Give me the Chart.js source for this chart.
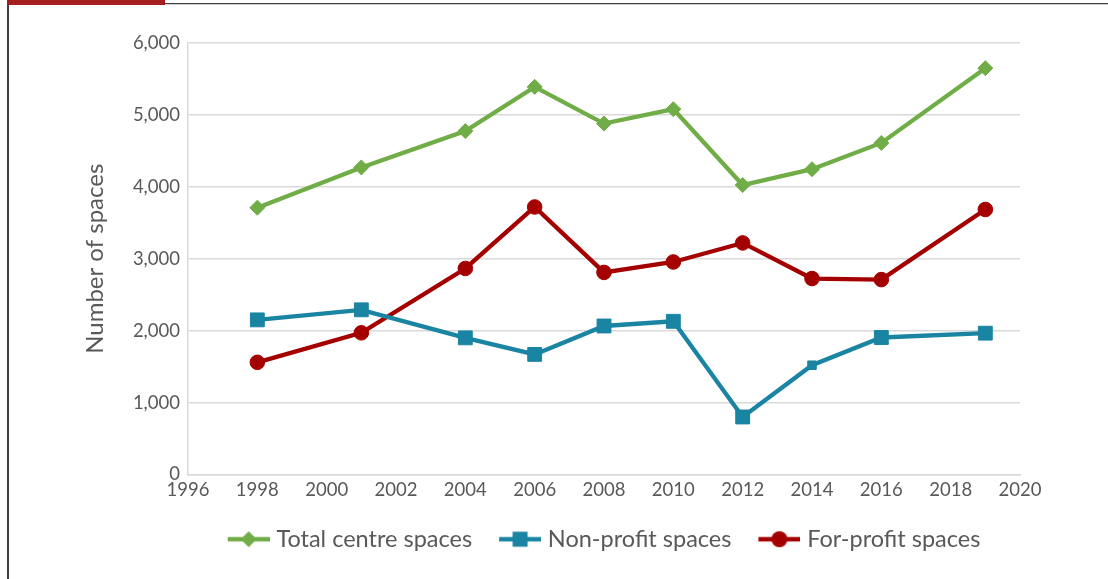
<!DOCTYPE html>
<html>
<head>
<meta charset="utf-8">
<script src="https://cdn.jsdelivr.net/npm/chart.js@4"></script>
<style>
  html, body { margin: 0; padding: 0; background: #fff; }
  #wrap { position: relative; width: 1108px; height: 579px; overflow: hidden; }
  #c { position: absolute; left: 0; top: 0; }
  .frameL { position: absolute; left: 7px; top: 0; width: 1.5px; height: 579px; background: #404040; }
  .frameT { position: absolute; left: 7px; top: 3px; width: 1101px; height: 1px; background: #404040; }
  .frameT2 { position: absolute; left: 7px; top: 4px; width: 1101px; height: 1px; background: #d0d0d0; }
  .redbar { position: absolute; left: 7px; top: 0; width: 158px; height: 5px; background: #a51e22; }
</style>
</head>
<body>
<div id="wrap">
  <canvas id="c" width="1108" height="579"></canvas>
  <div class="frameL"></div>
  <div class="frameT"></div>
  <div class="frameT2"></div>
  <div class="redbar"></div>
</div>
<script>
const years = [1998, 2001, 2004, 2006, 2008, 2010, 2012, 2014, 2016, 2019];
const totalSpaces = [3710, 4270, 4775, 5390, 4880, 5080, 4025, 4245, 4610, 5650];
const nonProfitSpaces = [2150, 2290, 1900, 1670, 2065, 2130, 800, 1520, 1905, 1965];
const forProfitSpaces = [1560, 1970, 2865, 3720, 2810, 2955, 3220, 2725, 2710, 3685];
const seriesNames = ["Total centre spaces", "Non-profit spaces", "For-profit spaces"];
const xTicks = [1996, 1998, 2000, 2002, 2004, 2006, 2008, 2010, 2012, 2014, 2016, 2018, 2020];
const yTicks = [0, 1000, 2000, 3000, 4000, 5000, 6000];

const GREEN = '#70ad47', BLUE = '#1a84a3', RED = '#a50000';
const FONT = 'Lato';
const TEXT = '#595959';

function pts(vals) { return years.map((y, i) => ({x: y, y: vals[i]})); }

// legend icon: a 42px line with the marker in its middle; canvas is 47 wide, line drawn from x=5
function makeIcon(color, shape) {
  const cv = document.createElement('canvas');
  cv.width = 47; cv.height = 18;
  const g = cv.getContext('2d');
  g.strokeStyle = color; g.fillStyle = color; g.lineWidth = 4.5;
  g.beginPath(); g.moveTo(5, 9); g.lineTo(47, 9); g.stroke();
  g.beginPath();
  const cx = 26;
  if (shape === 'diamond') { g.moveTo(cx, 1); g.lineTo(cx + 8, 9); g.lineTo(cx, 17); g.lineTo(cx - 8, 9); g.closePath(); }
  else if (shape === 'square') { g.rect(cx - 7.5, 1.5, 15, 15); }
  else { g.arc(cx, 9, 8, 0, Math.PI * 2); }
  g.fill();
  return cv;
}
const icons = [makeIcon(GREEN, 'diamond'), makeIcon(BLUE, 'square'), makeIcon(RED, 'circle')];

const blueRadius = years.map((y, i) => i === 7 ? 6 : 9.8);

new Chart(document.getElementById('c'), {
  type: 'line',
  data: {
    datasets: [
      { label: seriesNames[0], data: pts(totalSpaces), borderColor: GREEN, backgroundColor: GREEN,
        borderWidth: 4.3, pointStyle: 'rectRot', pointRadius: 7.5, pointBorderWidth: 1, pointHoverRadius: 7.5, tension: 0 },
      { label: seriesNames[1], data: pts(nonProfitSpaces), borderColor: BLUE, backgroundColor: BLUE,
        borderWidth: 4.3, pointStyle: 'rect', pointRadius: blueRadius, pointBorderWidth: 1, pointHoverRadius: blueRadius, tension: 0 },
      { label: seriesNames[2], data: pts(forProfitSpaces), borderColor: RED, backgroundColor: RED,
        borderWidth: 4.3, pointStyle: 'circle', pointRadius: 7.3, pointBorderWidth: 1, pointHoverRadius: 7.3, tension: 0 }
    ]
  },
  options: {
    responsive: false,
    animation: false,
    devicePixelRatio: 1,
    layout: { padding: { top: 43, right: 88, bottom: 18, left: 0 } },
    plugins: {
      tooltip: { enabled: false },
      legend: {
        position: 'bottom',
        fullSize: false,
        labels: {
          usePointStyle: true,
          pointStyleWidth: 37,
          padding: 27,
          color: TEXT,
          font: { family: FONT, size: 23.5 },
          generateLabels(chart) {
            const items = Chart.defaults.plugins.legend.labels.generateLabels(chart);
            items.forEach((it, i) => { it.pointStyle = icons[i]; });
            return items;
          }
        }
      }
    },
    scales: {
      x: {
        type: 'linear',
        min: xTicks[0], max: xTicks[xTicks.length - 1],
        afterBuildTicks(scale) { scale.ticks = xTicks.map(v => ({value: v})); },
        afterFit(scale) { scale.height = 26; },
        grid: { display: false, drawTicks: false },
        border: { display: true, color: '#d9d9d9', width: 1.5 },
        ticks: { padding: 4, color: TEXT, font: { family: FONT, size: 18.5 }, maxRotation: 0,
                 callback: v => String(v) }
      },
      y: {
        min: yTicks[0], max: yTicks[yTicks.length - 1],
        afterBuildTicks(scale) { scale.ticks = yTicks.map(v => ({value: v})); },
        afterFit(scale) { scale.width = 188; },
        grid: { color: '#d9d9d9', lineWidth: 1.5, drawTicks: false },
        border: { display: true, color: '#d9d9d9', width: 1.5 },
        ticks: { padding: 8, color: TEXT, font: { family: FONT, size: 18.5 },
                 callback: v => Number(v).toLocaleString('en-US') },
        title: { display: true, text: 'Number of spaces', color: TEXT,
                 font: { family: FONT, size: 24, weight: 'normal' }, padding: { top: 81, bottom: 0 } }
      }
    }
  }
});
</script>
</body>
</html>
